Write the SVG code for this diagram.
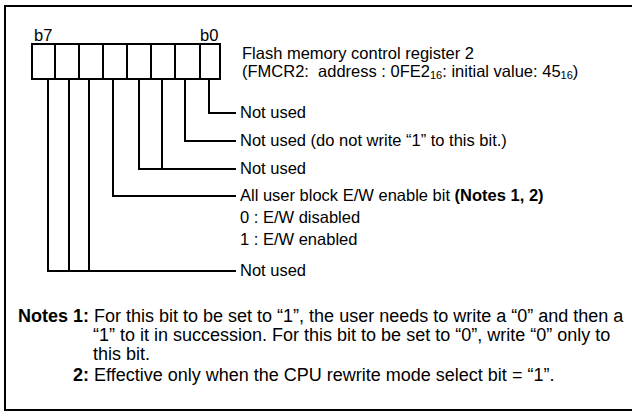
<svg xmlns="http://www.w3.org/2000/svg" width="632" height="412" viewBox="0 0 632 412">
<style>
text{font-family:"Liberation Sans",Arial,sans-serif;font-size:16.5px;fill:#000}
.n{font-size:18px}
.b{font-weight:bold}
.sub{font-size:11px}
.ln{stroke:#000;stroke-width:2;fill:none}
</style>
<rect x="0" y="0" width="632" height="412" fill="#fff"/>
<rect x="5" y="6" width="640" height="404" fill="none" stroke="#000" stroke-width="2"/>
<g id="register">
<text x="34" y="41">b7</text>
<text x="200" y="41">b0</text>
<rect class="ln" x="32" y="44" width="188" height="35"/>
<path class="ln" d="M55 44V79M79 44V79M103 44V79M127 44V79M151 44V79M175 44V79M200 44V79"/>
</g>
<g id="title">
<text x="242" y="59">Flash memory control register 2</text>
<text x="242" y="77">(FMCR2:&#160; address : 0FE2<tspan class="sub" dy="1.5">16</tspan><tspan dy="-1.5">: initial value: 45</tspan><tspan class="sub" dy="1.5">16</tspan><tspan dy="-1.5">)</tspan></text>
</g>
<g id="connectors">
<path class="ln" d="M209 79V113H236"/>
<path class="ln" d="M185 79V141H236"/>
<path class="ln" d="M162 79V169M139 79V169H236"/>
<path class="ln" d="M113 79V196H236"/>
<path class="ln" d="M89 79V271M69 79V271M48 79V271H236"/>
</g>
<g id="bit0"><text x="240" y="118">Not used</text></g>
<g id="bit1"><text x="240" y="146">Not used (do not write “1” to this bit.)</text></g>
<g id="bit23"><text x="240" y="174">Not used</text></g>
<g id="bit4">
<text x="240" y="201">All user block E/W enable bit <tspan class="b">(Notes 1, 2)</tspan></text>
<text x="240" y="223">0 : E/W disabled</text>
<text x="240" y="245">1 : E/W enabled</text>
</g>
<g id="bit567"><text x="240" y="276">Not used</text></g>
<g id="notes">
<text class="n" x="18" y="322"><tspan class="b">Notes 1:</tspan> For this bit to be set to “1”, the user needs to write a “0” and then a</text>
<text class="n" x="93" y="341">“1” to it in succession. For this bit to be set to “0”, write “0” only to</text>
<text class="n" x="93" y="360">this bit.</text>
<text class="n" x="73" y="381"><tspan class="b">2:</tspan> Effective only when the CPU rewrite mode select bit = “1”.</text>
</g>
</svg>
